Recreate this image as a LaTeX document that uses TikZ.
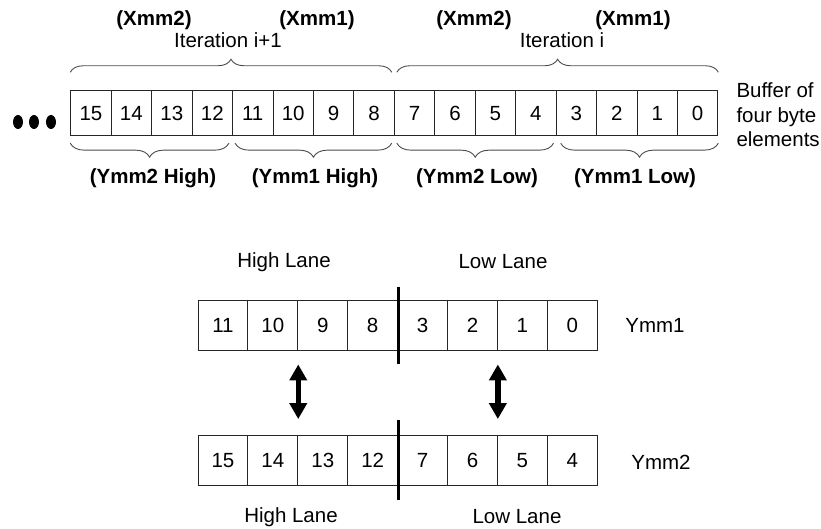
\documentclass[tikz,border=0pt]{standalone}
\usepackage{fontspec}
\setmainfont{Liberation Sans}
\usetikzlibrary{decorations.pathreplacing,arrows.meta}

\tikzset{
  lbl/.style={font=\fontsize{20.5}{24.5}\selectfont},
  blbl/.style={font=\fontsize{20.5}{24.5}\selectfont\bfseries},
  cell/.style={lbl, draw=black!85, line width=0.9pt, minimum width=40.45pt, minimum height=45pt, inner sep=0pt},
  lanecell/.style={cell, minimum width=49.9pt, minimum height=50pt},
  bracetop/.style={decorate, decoration={brace, amplitude=13pt}, draw=black!70, line width=0.9pt},
  bracebot/.style={decorate, decoration={brace, mirror, amplitude=14pt}, draw=black!70, line width=0.9pt},
  lanebar/.style={line width=3pt},
  swaparrow/.style={line width=5.5pt, {Triangle[width=17pt,length=16pt]}-{Triangle[width=17pt,length=16pt]}}
}

\begin{document}
\begin{tikzpicture}[x=1pt, y=-1pt]
  \useasboundingbox (0,0) rectangle (821,529);

  % buffer row
  \foreach \v [count=\k] in {15,14,...,0}
    \node[cell] (b\v) at ({70.7+40.45*(\k-0.5)},113.2) {\v};
  \foreach \x in {18,34,51}
    \fill (\x,122) ellipse [x radius=5pt, y radius=7pt];
  \node[lbl, anchor=west, align=left] (buf) at (733,115) {Buffer of\\four byte\\elements};

  % braces above
  \draw[bracetop] ([yshift=18pt]b15.north west) -- ([xshift=-3pt,yshift=18pt]b8.north east);
  \draw[bracetop] ([xshift=3pt,yshift=18pt]b7.north west) -- ([yshift=18pt]b0.north east);
  \node[blbl] (x2a) at (154,20) {(Xmm2)};
  \node[blbl] (x1a) at (317,20) {(Xmm1)};
  \node[lbl] (ita) at (228,40) {Iteration i+1};
  \node[blbl] (x2b) at (474,20) {(Xmm2)};
  \node[blbl] (x1b) at (633,20) {(Xmm1)};
  \node[lbl] (itb) at (562,40) {Iteration i};

  % braces below
  \draw[bracebot] ([yshift=-7pt]b15.south west) -- ([xshift=-4pt,yshift=-7pt]b12.south east);
  \draw[bracebot] ([xshift=3pt,yshift=-7pt]b11.south west) -- ([xshift=-3pt,yshift=-7pt]b8.south east);
  \draw[bracebot] ([xshift=3pt,yshift=-7pt]b7.south west) -- ([xshift=-3pt,yshift=-7pt]b4.south east);
  \draw[bracebot] ([xshift=5pt,yshift=-7pt]b3.south west) -- ([yshift=-7pt]b0.south east);
  \node[blbl] (y2h) at (153,178) {(Ymm2 High)};
  \node[blbl] (y1h) at (315,178) {(Ymm1 High)};
  \node[blbl] (y2l) at (477,178) {(Ymm2 Low)};
  \node[blbl] (y1l) at (635,178) {(Ymm1 Low)};

  % lanes
  \foreach \v [count=\k] in {11,10,9,8,3,2,1,0}
    \node[lanecell] (p\v) at ({198+49.9*(\k-0.5)},325) {\v};
  \foreach \v [count=\k] in {15,14,13,12,7,6,5,4}
    \node[lanecell] (q\v) at ({198+49.9*(\k-0.5)},460.5) {\v};
  \draw[lanebar] ([yshift=13pt]p8.north east) -- ([yshift=-14pt]p8.south east);
  \draw[lanebar] ([yshift=15pt]q12.north east) -- ([yshift=-14pt]q12.south east);
  \node[lbl] (ymm1) at (655,325) {Ymm1};
  \node[lbl] (ymm2) at (661,462) {Ymm2};
  \node[lbl] (hiup) at (284,262) {High Lane};
  \node[lbl] (loup) at (503,262) {Low Lane};
  \node[lbl] (hidn) at (291,517) {High Lane};
  \node[lbl] (lodn) at (517,517) {Low Lane};

  \draw[swaparrow] ([yshift=-14pt]p10.south east) -- ([yshift=16pt]q14.north east);
  \draw[swaparrow] ([yshift=-14pt]p2.south east) -- ([yshift=16pt]q6.north east);
\end{tikzpicture}
\end{document}
